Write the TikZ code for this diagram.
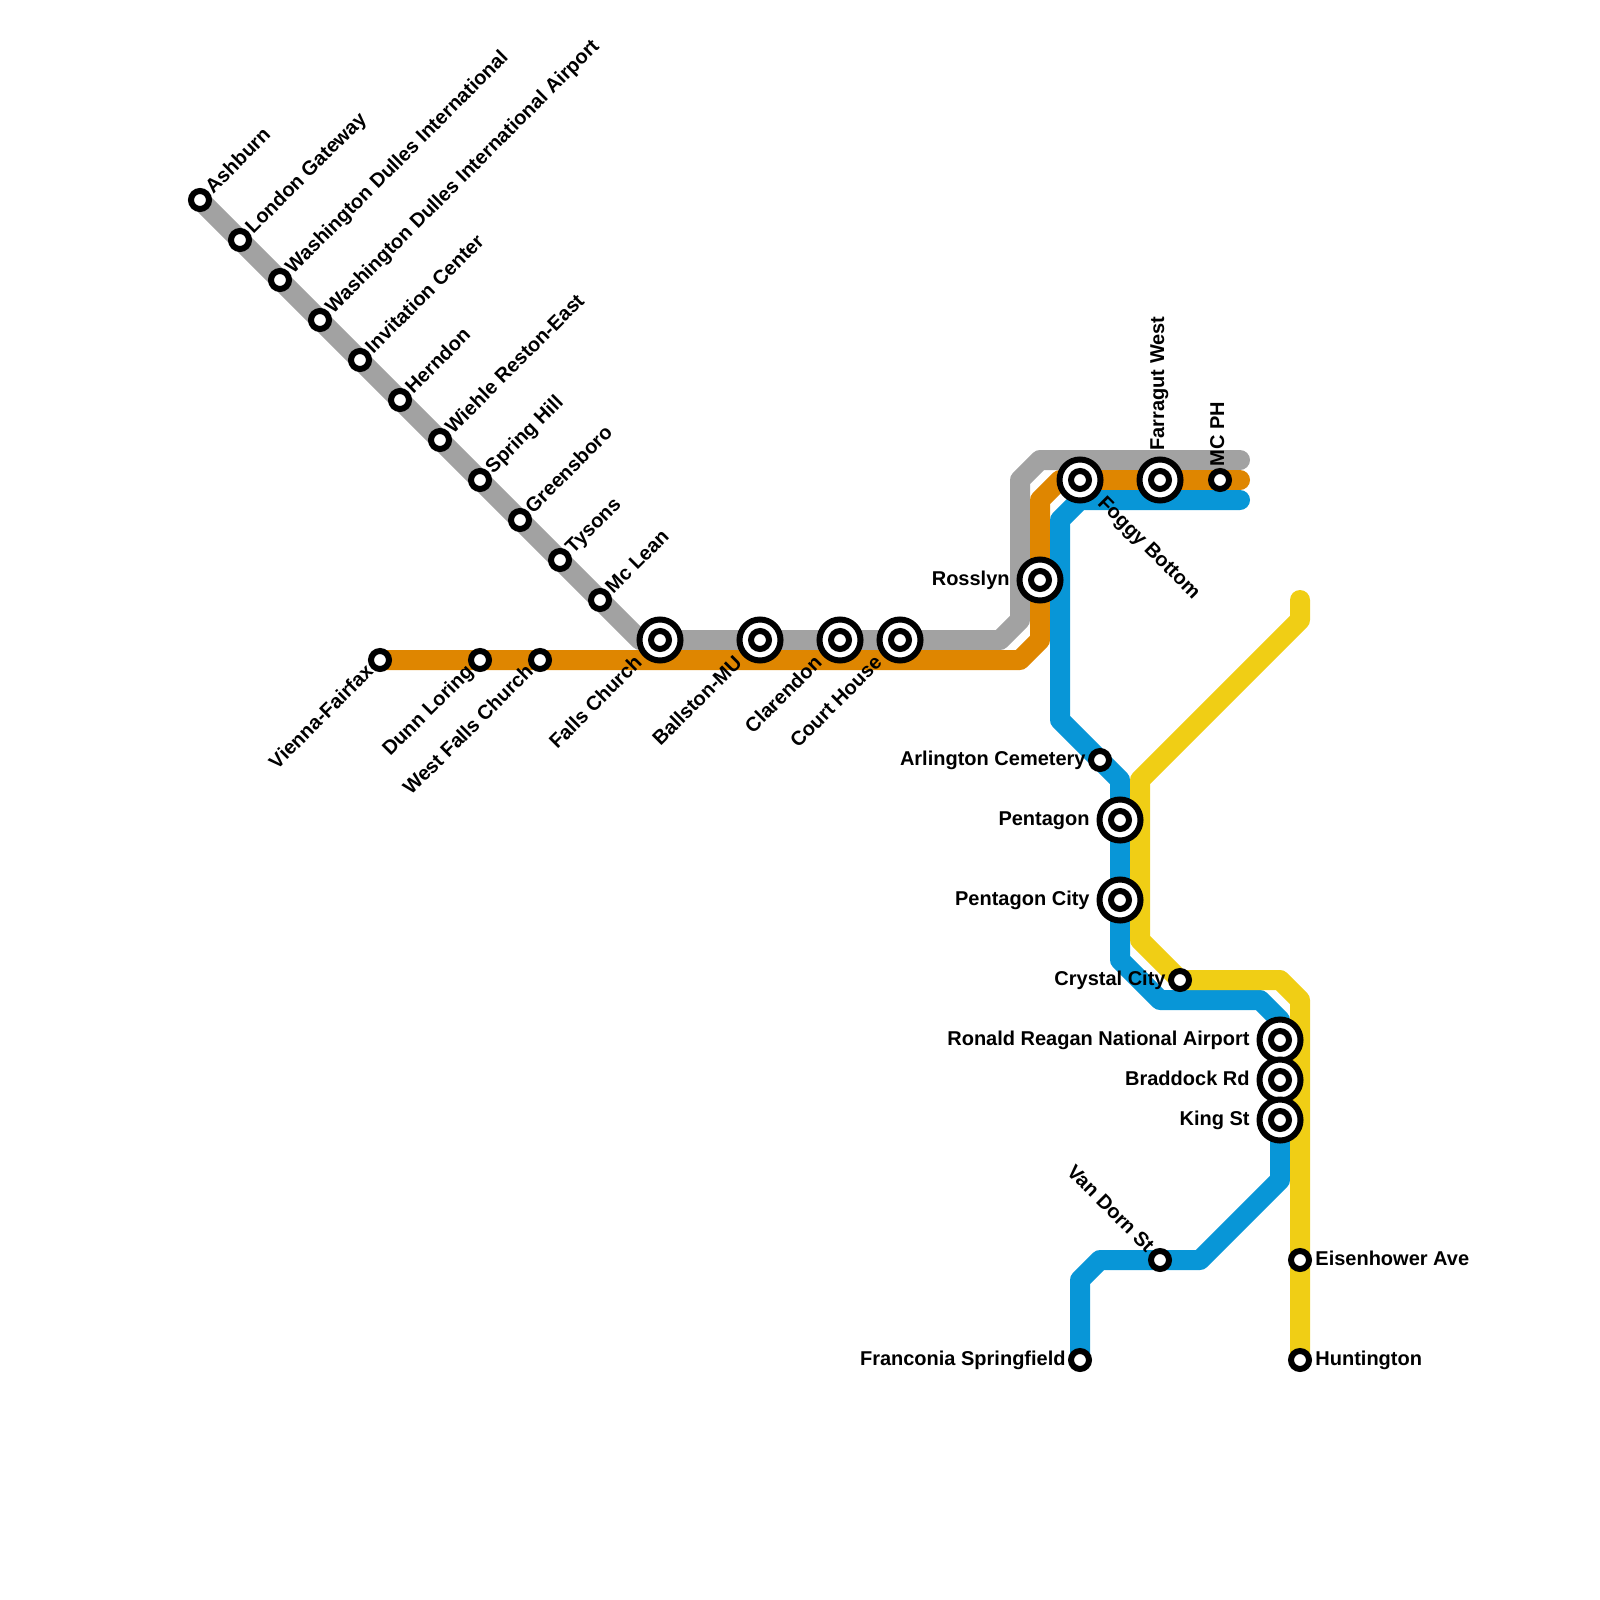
\documentclass[tikz,border=0pt]{standalone}
\usepackage{fontspec}
\setmainfont{Liberation Sans}
\usetikzlibrary{backgrounds}
\definecolor{linegray}{HTML}{A2A2A2}
\definecolor{lineorange}{HTML}{DF8600}
\definecolor{lineblue}{HTML}{0896D7}
\definecolor{lineyellow}{HTML}{F0CE15}
\tikzset{
  metro/.style={line width=10pt,line join=round,line cap=round},
  stop/.style={circle,draw=black,fill=white,line width=3pt,minimum size=9pt,inner sep=0pt},
  hub/.style={circle,draw=black,fill=white,line width=3pt,minimum size=20.5pt,inner sep=0pt},
  lab/.style={font=\bfseries\fontsize{10}{11}\selectfont,inner sep=0pt,text=black,text height=7.2pt,text depth=0pt},
  labne/.style={lab,xshift=0.7*#1-1.2pt,yshift=0.7*#1,rotate=45,anchor=west},
  labsw/.style={lab,xshift=-0.7*#1,yshift=-0.7*#1+1.5pt,rotate=45,anchor=east},
  labse/.style={lab,xshift=0.7*#1,yshift=-0.7*#1+1.5pt,rotate=-45,anchor=west},
  labnw/.style={lab,xshift=-0.7*#1+1pt,yshift=0.7*#1+0.5pt,rotate=-45,anchor=east},
  labn/.style={lab,xshift=-1.5pt,yshift=#1-1pt,rotate=90,anchor=west},
  labe/.style={lab,xshift=#1,yshift=1pt,anchor=west},
  labw/.style={lab,xshift=-#1+0.5pt,yshift=1pt,anchor=east},
}
\begin{document}
\begin{tikzpicture}[x=0.5pt,y=-0.5pt]
  \useasboundingbox (0,0) rectangle (1600,1600);
  % stations
  \foreach \n/\x/\y/\sty/\lab in {ashburn/200/200/labne/Ashburn, london/240/240/labne/London Gateway,
      dulles/280/280/labne/Washington Dulles International, dullesair/320/320/labne/Washington Dulles International Airport,
      invitation/360/360/labne/Invitation Center, herndon/400/400/labne/Herndon,
      wiehle/440/440/labne/Wiehle Reston-East, springhill/480/480/labne/Spring Hill,
      greensboro/520/520/labne/Greensboro, tysons/560/560/labne/Tysons, mclean/600/600/labne/Mc Lean,
      vienna/380/660/labsw/Vienna-Fairfax, dunn/480/660/labsw/Dunn Loring, westfalls/540/660/labsw/West Falls Church,
      mcph/1220/480/labn/MC PH, arlington/1100/760/labw/Arlington Cemetery, crystal/1180/980/labw/Crystal City,
      vandorn/1160/1260/labnw/Van Dorn St, franconia/1080/1360/labw/Franconia Springfield,
      eisenhower/1300/1260/labe/Eisenhower Ave, huntington/1300/1360/labe/Huntington}{
    \node[stop] (\n) at (\x,\y) {};
    \node[\sty=7.5pt] (\n-lab) at (\n) {\lab};
  }
  \foreach \n/\x/\y/\sty/\lab in {falls/660/640/labsw/Falls Church, ballston/760/640/labsw/Ballston-MU,
      clarendon/840/640/labsw/Clarendon, courthouse/900/640/labsw/Court House,
      rosslyn/1040/580/labw/Rosslyn, foggy/1080/480/labse/Foggy Bottom, farragut/1160/480/labn/Farragut West,
      pentagon/1120/820/labw/Pentagon, pentagoncity/1120/900/labw/Pentagon City,
      reagan/1280/1040/labw/Ronald Reagan National Airport, braddock/1280/1080/labw/Braddock Rd, king/1280/1120/labw/King St}{
    \node[hub] (\n) at (\x,\y) {};
    \node[stop] (\n-in) at (\n) {};
    \node[\sty=15.5pt] (\n-lab) at (\n) {\lab};
  }
  % bends and line ends
  \coordinate (gra) at (640,640);
  \coordinate (grb) at (1000,640);
  \coordinate (grc) at (1020,620);
  \coordinate (grd) at (1020,480);
  \coordinate (gre) at (1040,460);
  \coordinate (grf) at (1240,460);
  \coordinate (ora) at (1020,660);
  \coordinate (orb) at (1040,640);
  \coordinate (orc) at (1040,500);
  \coordinate (ord) at (1060,480);
  \coordinate (ore) at (1240,480);
  \coordinate (bla) at (1080,1280);
  \coordinate (blb) at (1100,1260);
  \coordinate (blc) at (1200,1260);
  \coordinate (bld) at (1280,1180);
  \coordinate (ble) at (1280,1020);
  \coordinate (blf) at (1260,1000);
  \coordinate (blg) at (1160,1000);
  \coordinate (blh) at (1120,960);
  \coordinate (bli) at (1120,780);
  \coordinate (blj) at (1060,720);
  \coordinate (blk) at (1060,520);
  \coordinate (bll) at (1080,500);
  \coordinate (blm) at (1240,500);
  \coordinate (yea) at (1300,600);
  \coordinate (yeb) at (1300,620);
  \coordinate (yec) at (1140,780);
  \coordinate (yed) at (1140,940);
  \coordinate (yee) at (1280,980);
  \coordinate (yef) at (1300,1000);
  % lines
  \begin{scope}[on background layer]
    \draw[metro,linegray] (ashburn.center) -- (gra) -- (falls.center) -- (grb) -- (grc) -- (grd) -- (gre) -- (grf);
    \draw[metro,lineorange] (vienna.center) -- (ora) -- (orb) -- (rosslyn.center) -- (orc) -- (ord) -- (ore);
    \draw[metro,lineblue] (franconia.center) -- (bla) -- (blb) -- (vandorn.center) -- (blc) -- (bld) -- (ble) -- (blf)
      -- (blg) -- (blh) -- (bli) -- (blj) -- (blk) -- (bll) -- (blm);
    \draw[metro,lineyellow] (yea) -- (yeb) -- (yec) -- (yed) -- (crystal.center) -- (yee) -- (yef) -- (huntington.center);
  \end{scope}
\end{tikzpicture}
\end{document}
